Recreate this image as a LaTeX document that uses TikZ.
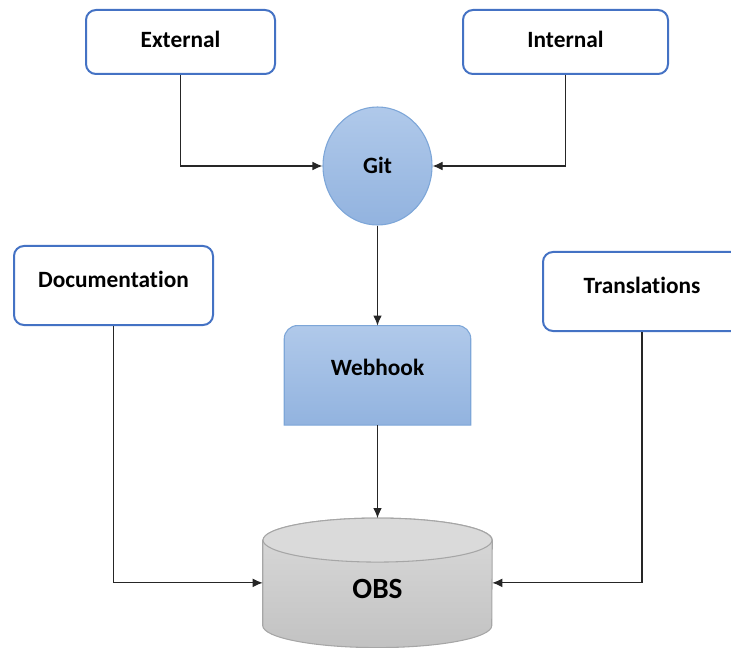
\documentclass[tikz,border=0pt]{standalone}
\usepackage{fontspec}
\setmainfont[Ligatures=NoCommon]{Carlito}
\usepackage{tikz}
\usetikzlibrary{arrows.meta,calc,positioning,shapes.geometric}
\pgfdeclarelayer{background}
\pgfsetlayers{background,main}
\definecolor{frame}{HTML}{4472C4}
\definecolor{blueedge}{HTML}{7DA6D8}
\definecolor{bluetop}{HTML}{B0C9EA}
\definecolor{bluebottom}{HTML}{92B3DF}
\definecolor{obsedge}{HTML}{A6A6A6}
\definecolor{obstop}{HTML}{DADADA}
\definecolor{obsbottom}{HTML}{C2C2C2}

\begin{document}
\begin{tikzpicture}[
        x=0.75pt,y=0.75pt,
        font=\bfseries\fontsize{17.5pt}{20pt}\selectfont,
        src/.style={draw=frame,line width=1.5pt,rounded corners=7.5pt,fill=white,
                    minimum height=48pt,text height=12pt,text depth=4pt},
        tall/.style={src,minimum height=59.25pt,text depth=9pt},
        repo/.style={ellipse,draw=blueedge,line width=0.8pt,top color=bluetop,bottom color=bluebottom,
                     minimum width=81.75pt,minimum height=88.5pt,text height=12pt,text depth=1pt},
        hook/.style={minimum width=139.5pt,minimum height=74.25pt,text height=12pt,text depth=12pt},
        store/.style={minimum width=171.75pt,minimum height=96.75pt,
                      font=\bfseries\fontsize{22pt}{26pt}\selectfont,text height=26pt,text depth=2pt},
        link/.style={-{Latex[length=7.5pt,width=6.5pt]},black!85,line width=0.8pt}
      ]
        \useasboundingbox (0,0) rectangle (731,647);
        \node[src,minimum width=141.75pt] (ext) at (180.5,605) {External};
        \node[src,minimum width=153.75pt] (int) at (565.5,605) {Internal};
        \node[repo] (git) at (377.5,481) {Git};
        \node[tall,minimum width=149.25pt] (doc) at (113.5,361.5) {Documentation};
        \node[tall,minimum width=148.5pt] (trans) at (642,355.5) {Translations};
        \node[hook,below=75pt of git] (webhook) {Webhook};
        \node[store,below=69.75pt of webhook] (obs) {OBS};
        \begin{pgfonlayer}{background}
          \draw[blueedge,line width=0.8pt,top color=bluetop,bottom color=bluebottom]
  (webhook.south west) -- ([yshift=-10pt]webhook.north west) arc[start angle=180,end angle=90,radius=10pt]
  -- ([xshift=-10pt]webhook.north east) arc[start angle=90,end angle=0,radius=10pt] -- (webhook.south east) -- cycle;
          \draw[obsedge,line width=0.8pt,top color=obstop,bottom color=obsbottom]
  ([yshift=-16.5pt]obs.north west) -- ([yshift=16.5pt]obs.south west)
  arc[start angle=180,end angle=360,x radius=85.875pt,y radius=16.5pt]
  -- ([yshift=-16.5pt]obs.north east) arc[start angle=0,end angle=180,x radius=85.875pt,y radius=16.5pt] -- cycle;
          \draw[obsedge,line width=0.8pt,fill=obstop]
  ([yshift=-16.5pt]obs.north) ellipse[x radius=85.875pt,y radius=16.5pt];
        \end{pgfonlayer}
        \draw[link] (ext) |- (git);
        \draw[link] (int) |- (git);
        \draw[link] (git) -- (webhook);
        \draw[link] (webhook) -- (obs);
        \draw[link] (doc) |- (obs);
        \draw[link] (trans) |- (obs);
      \end{tikzpicture}
\end{document}
